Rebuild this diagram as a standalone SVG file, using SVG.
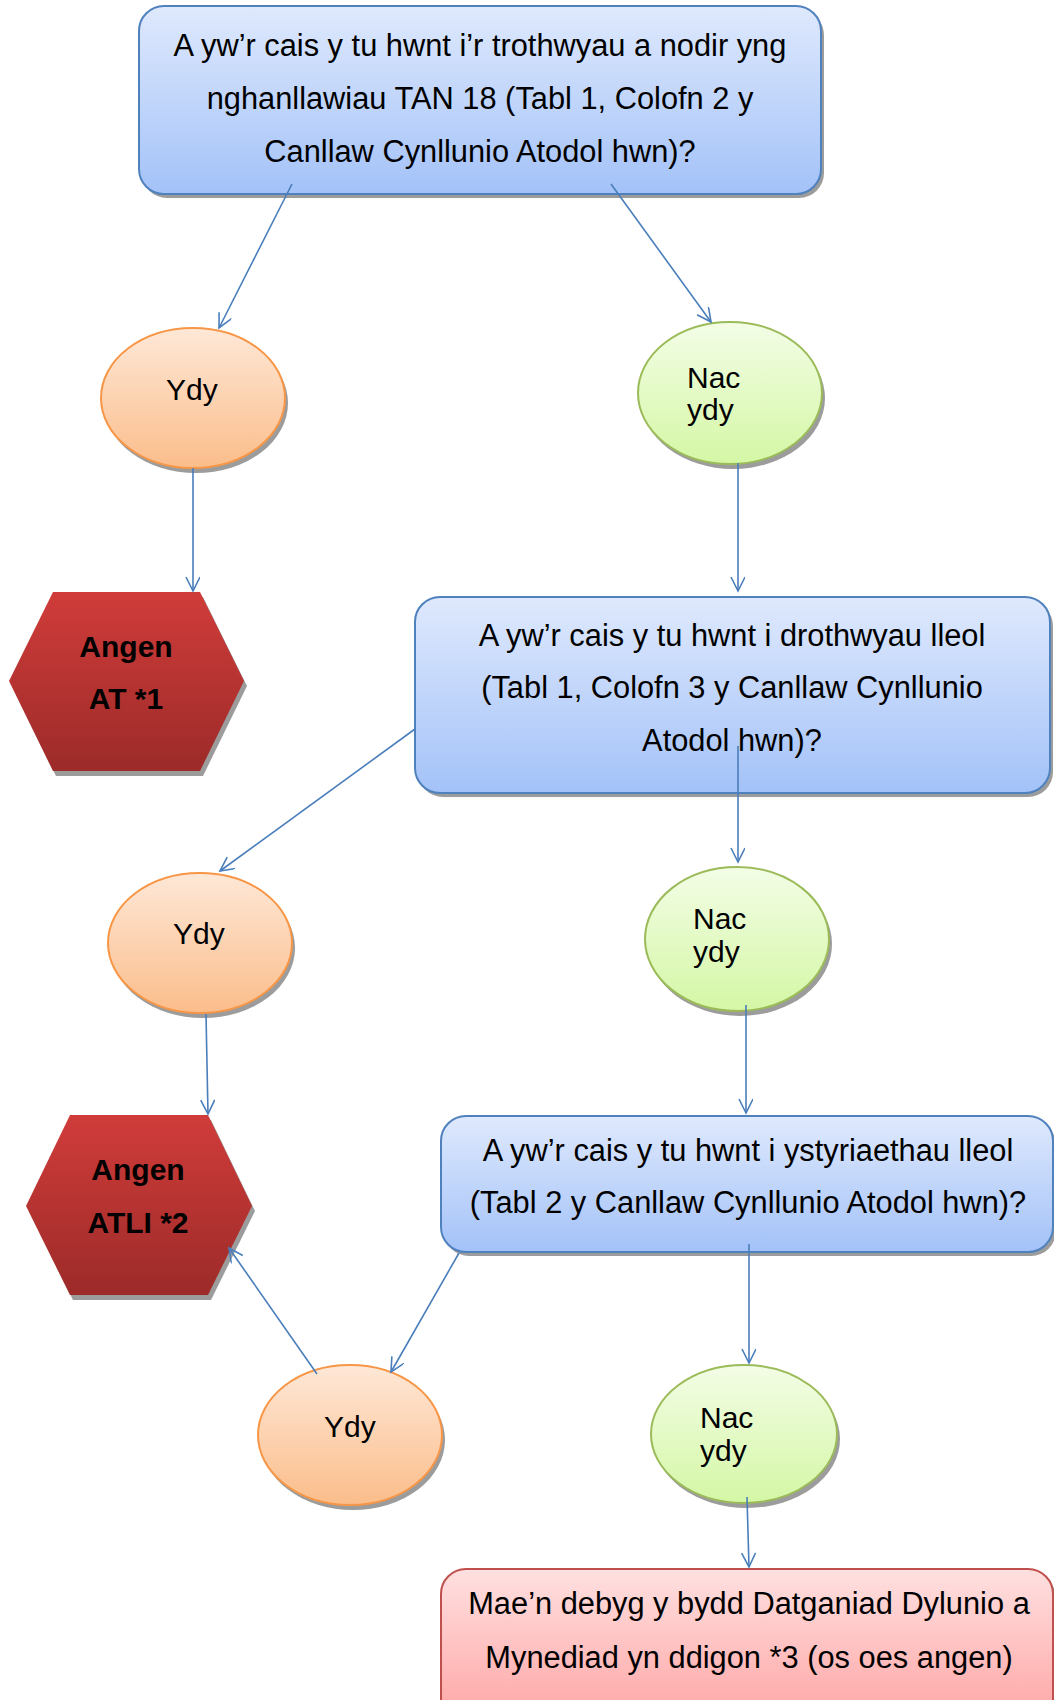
<svg xmlns="http://www.w3.org/2000/svg" width="1054" height="1700" viewBox="0 0 1054 1700">
<defs>
<linearGradient id="gBlue" x1="0" y1="0" x2="0" y2="1"><stop offset="0" stop-color="#dfe9fd"/><stop offset="1" stop-color="#a3c2f8"/></linearGradient>
<linearGradient id="gOrange" x1="0" y1="0" x2="0" y2="1"><stop offset="0" stop-color="#fee8d7"/><stop offset="1" stop-color="#fbbd8b"/></linearGradient>
<linearGradient id="gGreen" x1="0" y1="0" x2="0" y2="1"><stop offset="0" stop-color="#f3fde6"/><stop offset="1" stop-color="#d4f7a5"/></linearGradient>
<linearGradient id="gHex" x1="0" y1="0" x2="0" y2="1"><stop offset="0" stop-color="#d03c3a"/><stop offset="1" stop-color="#9c2b29"/></linearGradient>
<linearGradient id="gRed" x1="0" y1="0" x2="0" y2="1"><stop offset="0" stop-color="#ffe0e0"/><stop offset="1" stop-color="#ffa2a2"/></linearGradient>
<marker id="arr" markerUnits="userSpaceOnUse" markerWidth="20" markerHeight="20" refX="15" refY="7" orient="auto"><path d="M1,0 L15,7 L1,14" fill="none" stroke="#4a7ebb" stroke-width="1.6"/></marker>
<style>
.sh{fill:#9c9c9c}
.box{fill:url(#gBlue);stroke:#4f81bd;stroke-width:2}
.red{fill:url(#gRed);stroke:#c0504d;stroke-width:2}
.yes{fill:url(#gOrange);stroke:#f79646;stroke-width:2}
.no{fill:url(#gGreen);stroke:#9bbb59;stroke-width:2}
.hex{fill:url(#gHex)}
text{font-family:"Liberation Sans",Arial,sans-serif;font-size:30px;fill:#000}
.c{text-anchor:middle;font-size:30.8px}
.b{font-weight:bold;text-anchor:middle}
.con line{stroke:#4a7ebb;stroke-width:1.6;marker-end:url(#arr)}
</style>
</defs>
<rect width="1054" height="1700" fill="#fff"/>

<g id="q1">
<rect class="sh" x="142" y="10" width="682" height="188" rx="25"/>
<rect class="box" x="139" y="6" width="682" height="188" rx="25"/>
<text class="c" x="480" y="56">A yw’r cais y tu hwnt i’r trothwyau a nodir yng</text>
<text class="c" x="480" y="109">nghanllawiau TAN 18 (Tabl 1, Colofn 2 y</text>
<text class="c" x="480" y="162">Canllaw Cynllunio Atodol hwn)?</text>
</g>

<g id="ydy1">
<ellipse class="sh" cx="196" cy="403" rx="92" ry="70"/>
<ellipse class="yes" cx="193" cy="398" rx="92" ry="70"/>
<text x="166" y="400">Ydy</text>
</g>

<g id="nac1">
<ellipse class="sh" cx="733" cy="398" rx="92" ry="71"/>
<ellipse class="no" cx="730" cy="393" rx="92" ry="71"/>
<text x="687" y="388">Nac</text>
<text x="687" y="420">ydy</text>
</g>

<g id="hex1">
<polygon class="sh" points="56,597 203,597 247,686 203,776 56,776 12,686"/>
<polygon class="hex" points="53,592 200,592 244,681 200,771 53,771 9,681"/>
<text class="b" x="126" y="657">Angen</text>
<text class="b" x="126" y="709">AT *1</text>
</g>

<g id="q2">
<rect class="sh" x="418" y="601" width="635" height="196" rx="25"/>
<rect class="box" x="415" y="597" width="635" height="196" rx="25"/>
<text class="c" x="732" y="646">A yw’r cais y tu hwnt i drothwyau lleol</text>
<text class="c" x="732" y="698">(Tabl 1, Colofn 3 y Canllaw Cynllunio</text>
<text class="c" x="732" y="751">Atodol hwn)?</text>
</g>

<g id="ydy2">
<ellipse class="sh" cx="203" cy="948" rx="92" ry="70"/>
<ellipse class="yes" cx="200" cy="943" rx="92" ry="70"/>
<text x="173" y="944">Ydy</text>
</g>

<g id="nac2">
<ellipse class="sh" cx="740" cy="944" rx="92" ry="72"/>
<ellipse class="no" cx="737" cy="939" rx="92" ry="72"/>
<text x="693" y="929">Nac</text>
<text x="693" y="962">ydy</text>
</g>

<g id="hex2">
<polygon class="sh" points="73,1120 211,1120 255,1211 211,1300 73,1300 29,1211"/>
<polygon class="hex" points="70,1115 208,1115 252,1206 208,1295 70,1295 26,1206"/>
<text class="b" x="138" y="1180">Angen</text>
<text class="b" x="138" y="1233">ATLI *2</text>
</g>

<g id="q3">
<rect class="sh" x="444" y="1120" width="612" height="136" rx="25"/>
<rect class="box" x="441" y="1116" width="612" height="136" rx="25"/>
<text class="c" x="748" y="1161">A yw’r cais y tu hwnt i ystyriaethau lleol</text>
<text class="c" x="748" y="1213">(Tabl 2 y Canllaw Cynllunio Atodol hwn)?</text>
</g>

<g id="ydy3">
<ellipse class="sh" cx="353" cy="1440" rx="92" ry="70"/>
<ellipse class="yes" cx="350" cy="1435" rx="92" ry="70"/>
<text x="324" y="1437">Ydy</text>
</g>

<g id="nac3">
<ellipse class="sh" cx="747" cy="1439" rx="93" ry="69"/>
<ellipse class="no" cx="744" cy="1434" rx="93" ry="69"/>
<text x="700" y="1428">Nac</text>
<text x="700" y="1461">ydy</text>
</g>

<g id="final">
<rect class="sh" x="444" y="1573" width="612" height="160" rx="25"/>
<rect class="red" x="441" y="1569" width="612" height="160" rx="25"/>
<text class="c" x="749" y="1614">Mae’n debyg y bydd Datganiad Dylunio a</text>
<text class="c" x="749" y="1668">Mynediad yn ddigon *3 (os oes angen)</text>
</g>

<g id="connectors" class="con">
<line x1="292" y1="184" x2="219" y2="328"/>
<line x1="611" y1="184" x2="711" y2="322"/>
<line x1="193" y1="468" x2="193" y2="591"/>
<line x1="738" y1="463" x2="738" y2="591"/>
<line x1="415" y1="729" x2="220" y2="871"/>
<line x1="738" y1="746" x2="738" y2="862"/>
<line x1="206" y1="1014" x2="208" y2="1114"/>
<line x1="746" y1="1005" x2="746" y2="1113"/>
<line x1="459" y1="1253" x2="391" y2="1372"/>
<line x1="317" y1="1374" x2="229" y2="1248"/>
<line x1="749" y1="1244" x2="749" y2="1363"/>
<line x1="747" y1="1497" x2="749" y2="1567"/>
</g>
</svg>
